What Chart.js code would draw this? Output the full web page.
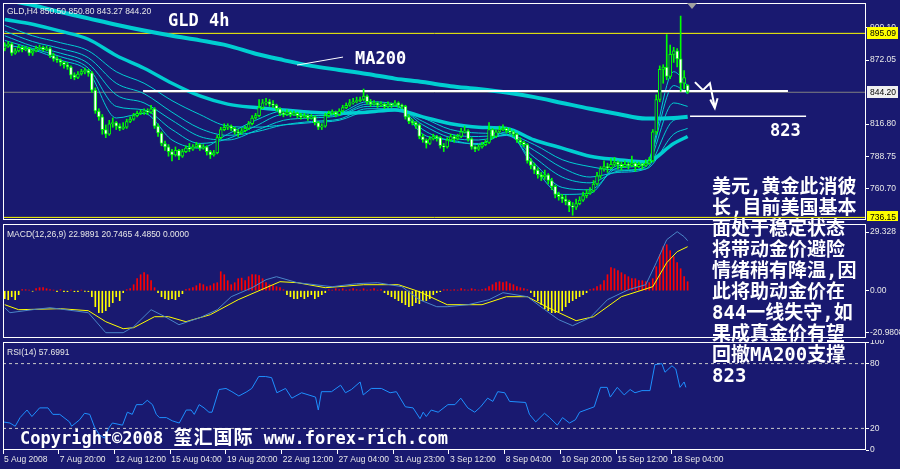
<!DOCTYPE html>
<html>
<head>
<meta charset="utf-8">
<script src="https://cdn.jsdelivr.net/npm/chart.js@4.4.0/dist/chart.umd.min.js"></script>
<style>
body { margin: 0; background: #191970; }
#wrap { position: relative; width: 900px; height: 469px; overflow: hidden; background: #191970; }
canvas { position: absolute; left: 0; }
.t { position: absolute; color: #fff; white-space: nowrap; }
.mono { font-family: 'DejaVu Sans Mono', 'Noto Sans CJK SC', monospace; font-weight: bold; }
.sm { font-family: 'Liberation Sans', Arial, sans-serif; font-size: 8.5px; line-height: 12px; color: #e8e8e8; }
.cjk { font-size: 19px; letter-spacing: 1px; }
#shift { position: absolute; left: 687px; top: 3px; width: 0; height: 0;
  border-left: 5px solid transparent; border-right: 5px solid transparent; border-top: 6px solid #a0a0a0; }
</style>
</head>
<body>
<div id="wrap">
  <canvas id="cMain" width="900" height="221" style="top:0"></canvas>
  <canvas id="cMacd" width="900" height="119" style="top:221px"></canvas>
  <canvas id="cRsi" width="900" height="129" style="top:340px"></canvas>

  <div class="t sm" style="left:7px;top:5px">GLD,H4 850.50 850.80 843.27 844.20</div>
  <div class="t mono" style="left:168px;top:9px;font-size:17px;line-height:22px">GLD 4h</div>
  <div class="t mono" style="left:355px;top:47px;font-size:17px;line-height:22px">MA200</div>
  <div class="t mono" style="left:770px;top:119px;font-size:17px;line-height:22px">823</div>
  <div class="t sm" style="left:7px;top:228px">MACD(12,26,9) 22.9891 20.7465 4.4850 0.0000</div>
  <div class="t sm" style="left:7px;top:346px">RSI(14) 57.6991</div>
  <div class="t mono" style="left:20px;top:426px;font-size:17px;line-height:22px">Copyright©2008 <span class="cjk">玺汇国际</span> www.forex-rich.com</div>
  <div class="t mono" style="left:712px;top:176px;font-size:19px;line-height:21px">美元,黄金此消彼<br>长,目前美国基本<br>面处于稳定状态<br>将带动金价避险<br>情绪稍有降温,因<br>此将助动金价在<br>844一线失守,如<br>果成真金价有望<br>回撤MA200支撑<br>823</div>
  <div id="shift"></div>
</div>

<script>
// bar index axis: one slot per 4h bar
const X_MIN = -0.5;
const X_MAX = 247.2;

// candles (GLD H4)
const candleOpen = [882,884,886,878,880,883,881,882,878,880, 882,883,881,882,876,873,872,870,868,866,
  859,857,860,862,863,861,846,828,823,812, 808,817,818,815,813,814,819,821,824,826,
  827,828,827,830,815,809,800,797,793,790, 794,789,793,796,795,797,799,796,797,793,
  790,792,805,812,814,815,813,810,809,811, 813,817,822,824,831,835,836,834,833,830,
  826,825,827,825,826,824,823,824,822,823, 818,814,815,824,826,827,825,828,831,833,
  835,836,837,838,841,836,834,835,833,834, 832,834,833,835,833,832,823,819,818,816,
  806,803,800,804,806,805,798,797,803,806, 804,806,810,811,804,797,795,797,799,801,
  812,806,810,812,813,811,810,808,803,801, 799,785,781,777,773,771,773,768,763,756,
  754,752,750,746,745,748,751,755,757,759, 765,772,778,780,779,782,784,782,780,782,
  781,783,780,782,781,783,785,810,838,864, 866,858,877,880,873,852,850.5];
const candleHigh = [887,888,887,882,885,884,884,883,881,884, 885,884,884,883,878,875,873,871,870,867,
  861,862,864,865,864,862,848,830,825,816, 820,822,819,817,818,821,823,826,828,829,
  830,830,833,831,817,810,802,799,795,797, 795,795,798,800,799,801,800,799,798,794,
  794,807,814,817,817,816,814,812,813,815, 819,824,826,838,838,839,838,837,834,831,
  828,829,828,828,827,826,826,825,825,824, 819,817,826,828,829,828,830,833,835,838,
  839,840,840,847,842,838,837,836,836,835, 836,835,837,836,834,833,825,821,819,817,
  808,804,806,808,807,806,800,805,808,807, 808,813,815,812,805,798,799,801,803,818,
  813,812,815,816,814,813,811,809,805,802, 800,787,783,779,775,777,774,770,764,758,
  756,755,751,749,752,754,758,760,762,768, 775,780,785,783,787,788,785,784,785,784,
  789,784,784,783,786,788,812,842,867,868, 894,885,883,882,910,863,850.8];
const candleLow = [880,883,876,877,879,879,880,876,876,879, 881,880,880,874,871,870,867,865,864,856,
  855,856,859,860,858,844,826,820,808,805, 807,814,812,811,812,813,818,820,823,825,
  825,825,826,813,806,798,794,789,785,789, 786,788,792,793,794,796,794,795,790,787,
  789,791,804,811,812,811,808,806,808,810, 812,816,821,823,830,833,832,831,828,824,
  823,824,823,824,822,821,822,820,821,816, 812,812,814,823,825,823,824,827,830,832,
  834,835,836,837,834,832,833,831,832,830, 831,831,832,831,830,821,817,816,813,804,
  801,796,799,803,802,796,793,796,802,801, 803,805,809,802,795,793,794,796,798,800,
  804,805,809,811,809,808,806,801,799,797, 783,778,774,770,768,769,765,760,753,751,
  749,747,741,738,743,747,750,753,756,758, 764,770,776,775,778,780,778,777,779,778,
  780,776,779,778,780,782,784,808,836,852, 855,856,870,866,845,847,843.27];
const candleClose = [884,886,878,880,883,881,882,878,880,882, 883,881,882,876,873,872,870,868,866,859,
  857,860,862,863,861,846,828,823,812,808, 817,818,815,813,814,819,821,824,826,827,
  828,827,830,815,809,800,797,793,790,794, 789,793,796,795,797,799,796,797,793,790,
  792,805,812,814,815,813,810,809,811,813, 817,822,824,831,835,836,834,833,830,826,
  825,827,825,826,824,823,824,822,823,818, 814,815,824,826,827,825,828,831,833,835,
  836,837,838,841,836,834,835,833,834,832, 834,833,835,833,832,823,819,818,816,806,
  803,800,804,806,805,798,797,803,806,804, 806,810,811,804,797,795,797,799,801,812,
  806,810,812,813,811,810,808,803,801,799, 785,781,777,773,771,773,768,763,756,754,
  752,750,746,745,748,751,755,757,759,765, 772,778,780,779,782,784,782,780,782,781,
  783,780,782,781,783,785,810,838,864,866, 858,877,880,873,852,857,844.2];

// moving averages, read every 8 bars
const maIdx = [0,8,16,24,32,40,48,56,64,72,80,88,96,104,112,120,128,136,144,152,160,168,176,184,192,196];
const ma200 = [924,919.5,913.5,908,902.5,897.5,893,889,884.5,877.5,872,867,863.5,860,856,853,849.5,847,844,840,835,830,825.5,821.5,822,823];
const maSlow = [907,903,897,890,876,865,852,841,834,831,829,827,826,827,829,823,817,814,813,803,796,789,786,784,800,806];
const maFast1 = [885,881,872,862,822,826,803,796,808,820,828,824,826,836,834,808,803,799,810,779,756,757,781,783,862,850];
const maFast2 = [889,882,875,865,832,829,812,800,804,815,825,824,825,834,833,812,802,800,808,783,762,760,779,782,850,843];
const maFast3 = [893,884,878,869,842,835,820,806,803,811,820,822,824,832,832,816,805,803,807,788,771,766,776,780,835,832];
const maFast4 = [897,888,882,874,852,843,827,813,807,810,816,819,821,830,830,819,808,806,807,794,779,771,775,778,820,822];
const maFast5 = [902,893,887,880,862,852,837,825,815,814,816,818,820,828,829,822,812,809,808,799,786,780,777,778,808,813];

// horizontal levels and drawings on the price pane
const yellowLevels = [895.09, 736.15];
const bidPrice = 844.20;
const supportLineX = [39.7, 224.8];
const supportLineY = [845.3, 845.3];
const targetLineX = [196.7, 230];
const targetLineY = [823.5, 823.5];
const pointerX = [83.9, 97.1];
const pointerY = [867.7, 874.6];
const arrowX = [198.1, 200.4, 202.4, 203.8];
const arrowY = [853, 846, 852, 831];
const arrowHeadX = [202.5, 203.8, 204.6];
const arrowHeadY = [838, 830.5, 839];

const mainTicks = [900.10, 872.05, 816.80, 788.75, 760.70];
const mainTickText = ['900.10', '872.05', '816.80', '788.75', '760.70'];
const tagValues = [895.09, 844.20, 736.15];
const tagText = ['895.09', '844.20', '736.15'];

// MACD
const macdHist = [-4,-4.5,-3,-4.5,-2, 0.5,0.5,0.3,-0.3, 1,1.5,1.5,1,0.5,0.3,
  -0.5,0.5,-0.5,-0.5,0.3,-0.5,-0.5,0.3,-0.3,-0.5,-3, -8,-11,-11,-10,-8,-6, -3,-5,-1, 0.5,1,
  3,6,8,9,8,5,1.5, -1,-3,-4,-4.5,-4,-4.5,-3,-1.5, 0.5,1,1.5,2.5,3.5,3, 2,2.5,3.5,4,
  9.5,8,5,3, 4,6,6.3,5, 7,8,8,7.5,6,4, 3,2.5,2,1.5,0.5,
  -2,-3,-4,-4,-3,-4,-3,-2,-4,-3,-2,-1,
  0.5,0.3,1,0.5,1,0.3,0.5,1,0.5,0.3,1,0.3,0.5,1,0.3,0.5,
  -1,-2,-3,-4,-5,-6,-7,-8,-7.5,-6,-6.5,-5,-5,-4,-2,-1,-0.5,
  0.5,0.5,0.3,0.5, 0.3,1,0.5,0.3,1,0.5,0.3,
  0.5,1,2,3,4,4.5,4,4.5,3.5,3,2,1.5,1,0.5,
  -1,-3,-5,-7,-9,-10,-11,-11,-10.5,-10,-8,-6,-5,-4,-3,-2,-1,0.5,1,
  2,3,5,8, 11.5,11,10,9,8,7,6,6,5,5,4.5,4,
  6,12,18,22,23,20,17,14,11,7,4.5];
const macdMainX = [0,1.5,8,13,24,29,34,37,42,46,50,56,61,65,71,75,78,84,94,101,107,114,119,124,127,133,139,143,150,155,159,163,168,173,179,184,187,190,193,195,196];
const macdMainV = [-8.5,-11,-9.5,-8.5,-11,-21,-21,-18,-9.5,-13,-17,-13.5,-9.5,-3,1.5,5.5,7,4,2,3.5,4,2,-4.5,-8,-8,-7,-4.5,-1,-3,-9.5,-14.5,-17.5,-13.5,-4.5,0.5,3,14,25.5,29.5,27,25];
const macdSigX = [0,4,16,24,29,34,37,43,47,52,59,67,75,79,84,92,103,113,119,127,137,144,150,156,164,169,177,186,190,193,196];
const macdSigV = [-7,-9.5,-9,-10,-15.5,-19,-18.5,-13,-13,-15.5,-12,-4.5,1.5,4.5,4,1.5,3,3,-0.5,-7,-7,-3,-3,-8.5,-15,-13,-3,2,14,19.5,22];
const macdTicks = [29.328, 0, -20.9808];
const macdTickText = ['29.328', '0.00', '-20.9808'];

// RSI(14)
const rsiX = [-0.5,1.5,3,4.4,6.4,7.8,10,12.4,13.8,15.8, 18.6,19.2,21.5,22.9,24.4,25.8,27.2,28.6,30,30.9,
  33.8,35.2,36.6,37.8,39.5,40.9,42.4,43.5,44.4,46.4, 48.1,50.1,52.1,53.5,54.4,55.8,57.2,58.6,59.5,61.5,
  63.5,65.2,67.2,69.5,70.9,72.9,74.9,76.6,78.1,80.6, 82.4,85.2,89.2,90,90.9,93.8,96.4,97.8,99.5,102,
  102.9,105.2,108.1,110.6,112.4,115,117.2,119.2,120.1,121, 122.4,124.4,127.2,129.2,130.9,132.9,134.9,136.6,138.6,140.1,
  141.5,143.5,144.9,149.5,150.6,152.4,154.9,156.4,158.6,160.1, 162.1,163.8,165,169.2,171,172.9,173.8,175.8,177.8,179.5,
  180.9,182.9,185.2,186.6,188.6,189.5,191.5,192.6,193.8,195, 195.5];
const rsiV = [26,25,22,30,37,31,39,39,33,33, 26,22,28,34,33,21,14,11,21,25,
  23,35,33,42,42,46,42,33,30,30, 27,25,37,37,33,42,39,35,35,56,
  57,54,50,54,57,68,68,67,53,57, 48,53,49,37,54,54,60,53,56,63,
  51,57,57,53,54,40,39,29,35,31, 37,35,42,42,48,39,35,40,48,45,
  54,53,45,44,33,26,34,30,23,30, 25,28,35,40,58,58,49,58,51,56,
  53,55,55,79,80,72,78,75,58,63, 58];
const rsiLevels = [80, 20];
const rsiTicks = [100, 80, 20, 0];
const rsiTickText = ['100', '80', '20', '0'];

// time axis
const timeTickIdx = [-0.5,15.5,31.5,47.5,63.5,79.5,95.5,111.5,127.5,143.5,159.5,175.5,191.5];
const timeLabels = ['5 Aug 2008','7 Aug 20:00','12 Aug 12:00','15 Aug 04:00','19 Aug 20:00','22 Aug 12:00',
  '27 Aug 04:00','31 Aug 23:00','3 Sep 12:00','8 Sep 04:00','10 Sep 20:00','15 Sep 12:00','18 Sep 04:00'];

const NAVY = '#191970';
const CYAN = '#00ced1';
const LIME = '#00ff00';
const AXIS_FONT = { family: 'Liberation Sans', size: 8.5 };

function pts(xs, ys) { return xs.map((x, i) => ({ x, y: ys[i] })); }
function flat(v) { return [{ x: X_MIN, y: v }, { x: X_MAX, y: v }]; }
function lineSet(data, color, width, order, extra) {
  return Object.assign({ type: 'line', data, borderColor: color, borderWidth: width, pointRadius: 0,
    fill: false, tension: 0, order }, extra || {});
}

const paneBorder = {
  id: 'paneBorder',
  afterDraw(chart) {
    const { ctx, chartArea: a } = chart;
    ctx.save();
    ctx.strokeStyle = '#ffffff';
    ctx.lineWidth = 1;
    ctx.strokeRect(a.left + 0.5, a.top + 0.5, a.right - a.left - 1, a.bottom - a.top - 1);
    ctx.restore();
  }
};

const priceTags = {
  id: 'priceTags',
  afterDraw(chart) {
    const { ctx, chartArea: a } = chart;
    const y = chart.scales.y;
    ctx.save();
    ctx.font = '8.5px "Liberation Sans"';
    ctx.textBaseline = 'middle';
    tagValues.forEach((v, i) => {
      const py = Math.round(y.getPixelForValue(v));
      ctx.fillStyle = i === 1 ? '#f0f0f0' : '#ffff00';
      ctx.fillRect(a.right + 1, py - 6, 31, 12);
      ctx.fillStyle = '#000000';
      ctx.fillText(tagText[i], a.right + 4, py + 0.5);
    });
    ctx.restore();
  }
};

function rightAxis(min, max, tickVals, tickText) {
  return {
    type: 'linear', position: 'right', min, max, bounds: 'data', beginAtZero: false,
    afterBuildTicks: s => { s.ticks = tickVals.map(v => ({ value: v })); },
    afterFit: s => { s.width = 34; s.paddingTop = 0; s.paddingBottom = 0; },
    grid: { drawOnChartArea: false, tickLength: 3, color: '#ffffff' },
    border: { display: false },
    ticks: { padding: 1, color: '#e8e8e8', font: AXIS_FONT, callback: (v, i) => tickText[i] }
  };
}
const hiddenX = { type: 'linear', min: X_MIN, max: X_MAX, offset: false, display: false };
const baseOpts = { responsive: false, animation: false, devicePixelRatio: 1,
  plugins: { legend: { display: false }, tooltip: { enabled: false } } };

// price pane
const wicks = candleLow.map((l, i) => ({ x: i, y: [l, candleHigh[i]] }));
const bodies = candleOpen.map((o, i) => ({ x: i, y: [o, candleClose[i]] }));
const bodyColors = candleOpen.map((o, i) => candleClose[i] < o ? '#ffffff' : NAVY);
const smooth = { cubicInterpolationMode: 'monotone' };

new Chart(document.getElementById('cMain'), {
  type: 'bar',
  data: { datasets: [
    { type: 'bar', data: bodies, backgroundColor: bodyColors, borderColor: LIME, borderWidth: 1,
      borderSkipped: false, barThickness: 3, grouped: false, order: 0 },
    { type: 'bar', data: wicks, backgroundColor: LIME, barThickness: 1, grouped: false, order: 1 },
    lineSet(pts(arrowX, arrowY), '#ffffff', 2, 2),
    lineSet(pts(arrowHeadX, arrowHeadY), '#ffffff', 2, 2),
    lineSet(pts(supportLineX, supportLineY), '#ffffff', 2, 3),
    lineSet(pts(targetLineX, targetLineY), '#ffffff', 1.5, 3),
    lineSet(pts(pointerX, pointerY), '#ffffff', 1, 3),
    lineSet(pts(maIdx, maFast1), CYAN, 1, 4, smooth),
    lineSet(pts(maIdx, maFast2), CYAN, 1, 4, smooth),
    lineSet(pts(maIdx, maFast3), CYAN, 1, 4, smooth),
    lineSet(pts(maIdx, maFast4), CYAN, 1, 4, smooth),
    lineSet(pts(maIdx, maFast5), CYAN, 1, 4, smooth),
    lineSet(pts(maIdx, maSlow), CYAN, 3.5, 5, smooth),
    lineSet(pts(maIdx, ma200), CYAN, 4, 5, smooth),
    lineSet(flat(bidPrice), '#808080', 1, 6),
    lineSet(flat(yellowLevels[0]), '#ffff00', 1, 6),
    lineSet(flat(yellowLevels[1]), '#ffff00', 1, 6)
  ]},
  options: Object.assign({}, baseOpts, {
    layout: { padding: { left: 3, top: 3, right: 0, bottom: 1 }, autoPadding: false },
    scales: { x: hiddenX, y: rightAxis(733.9, 921.3, mainTicks, mainTickText) }
  }),
  plugins: [paneBorder, priceTags]
});

// MACD pane
new Chart(document.getElementById('cMacd'), {
  type: 'bar',
  data: { datasets: [
    lineSet(pts(macdMainX, macdMainV), '#4a86c8', 1, 0),
    lineSet(pts(macdSigX, macdSigV), '#ffff00', 1, 0),
    { type: 'bar', data: macdHist.map((v, i) => ({ x: i, y: v })),
      backgroundColor: macdHist.map(v => v > 0 ? '#ff0000' : '#ffff00'),
      barThickness: 1, grouped: false, order: 2 }
  ]},
  options: Object.assign({}, baseOpts, {
    layout: { padding: { left: 3, top: 3, right: 0, bottom: 2 }, autoPadding: false },
    scales: { x: hiddenX, y: rightAxis(-23.65, 33.35, macdTicks, macdTickText) }
  }),
  plugins: [paneBorder]
});

// RSI pane with time axis
new Chart(document.getElementById('cRsi'), {
  type: 'line',
  data: { datasets: [
    lineSet(pts(rsiX, rsiV), '#1e90ff', 1, 0),
    lineSet(flat(rsiLevels[0]), '#c8c8c8', 1, 1, { borderDash: [3, 3] }),
    lineSet(flat(rsiLevels[1]), '#c8c8c8', 1, 1, { borderDash: [3, 3] })
  ]},
  options: Object.assign({}, baseOpts, {
    layout: { padding: { left: 3, top: 2, right: 0, bottom: 0 }, autoPadding: false },
    scales: {
      x: {
        type: 'linear', min: X_MIN, max: X_MAX, offset: false, position: 'bottom',
        afterBuildTicks: s => { s.ticks = timeTickIdx.map(v => ({ value: v })); },
        afterFit: s => { s.height = 19; s.paddingLeft = 0; s.paddingRight = 0; },
        grid: { drawOnChartArea: false, tickLength: 4, color: '#ffffff' },
        border: { display: false },
        ticks: { autoSkip: false, maxRotation: 0, align: 'start', labelOffset: 1, padding: 1,
          color: '#e8e8e8', font: AXIS_FONT, callback: (v, i) => timeLabels[i] }
      },
      y: rightAxis(0, 100, rsiTicks, rsiTickText)
    }
  }),
  plugins: [paneBorder]
});
</script>
</body>
</html>
